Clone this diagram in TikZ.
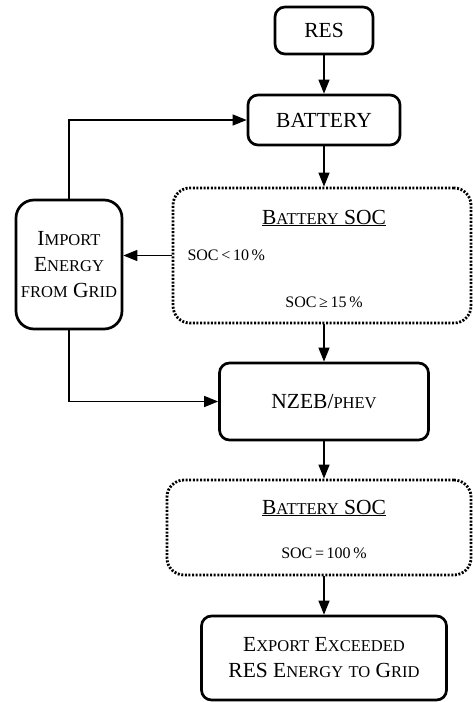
\documentclass[tikz,border=0pt]{standalone}
\usepackage{fontspec}
\setmainfont{Liberation Serif}
\usetikzlibrary{arrows.meta}
\newcommand{\smc}[1]{{\fontsize{16.5}{18}\selectfont #1}}
\tikzset{
  block/.style={
    draw,
    line width=2.7pt,
    rounded corners=10pt,
    align=center,
    inner sep=0pt,
    font=\fontsize{21.5}{26}\selectfont
  },
  soc box/.style={
    draw,
    line width=2.8pt,
    dash pattern=on 2pt off 1.6pt,
    rounded corners=17pt
  },
  soc head/.style={
    font=\fontsize{21.5}{26}\selectfont
  },
  soc label/.style={
    font=\fontsize{16}{19}\selectfont
  },
  flow/.style={
    -{Triangle[length=14pt, width=11pt]},
    line width=1.4pt
  }
}

\begin{document}
\begin{tikzpicture}[x=1pt, y=-1pt]
    \useasboundingbox (0,0) rectangle (472,702);

    % main column
    \node[block, minimum width=98pt, minimum height=47pt] (res) at (324,30.5) {RES};
    \node[block, minimum width=152pt, minimum height=50pt] (batt) at (324,120) {BATTERY};
    \node[block, minimum width=209pt, minimum height=77pt] (nzeb) at (324,401.5) {NZEB/\smc{PHEV}};
    \node[block, minimum width=245pt, minimum height=84pt] (export) at (324,658)
      {E\smc{XPORT} E\smc{XCEEDED}\\RES E\smc{NERGY} \smc{TO} G\smc{RID}};

    % grid import
    \node[block, rounded corners=18pt, minimum width=106pt, minimum height=129pt] (import) at (69,264.5)
      {I\smc{MPORT}\\E\smc{NERGY}\\\smc{FROM} G\smc{RID}};

    % first SOC check
    \node[soc box, minimum width=298pt, minimum height=135pt] (soc1) at (322,255.5) {};
    \node[soc head] (head1) at (324,218) {\underline{B\smc{ATTERY} SOC}};
    \node[soc label, anchor=west] (low) at (184,255) {SOC\,<\,10\,\%};
    \node[soc label] (high) at (324,302) {SOC\,≥\,15\,\%};

    % second SOC check
    \node[soc box, minimum width=304pt, minimum height=95pt] (soc2) at (319,527.5) {};
    \node[soc head] (head2) at (324,508) {\underline{B\smc{ATTERY} SOC}};
    \node[soc label] (full) at (324,553) {SOC\,=\,100\,\%};

    % connectors
    \draw[flow] (res) -- (batt);
    \draw[flow] (batt) -- (batt |- soc1.north);
    \draw[flow] (soc1.west) -- (soc1.west -| import.east);
    \draw[flow] (import.north) |- (batt.west);
    \draw[flow] (import.south) |- (nzeb.west);
    \draw[flow] (nzeb.north |- soc1.south) -- (nzeb);
    \draw[flow] (nzeb) -- (nzeb |- soc2.north);
    \draw[flow] (export.north |- soc2.south) -- (export);

\end{tikzpicture}
\end{document}
